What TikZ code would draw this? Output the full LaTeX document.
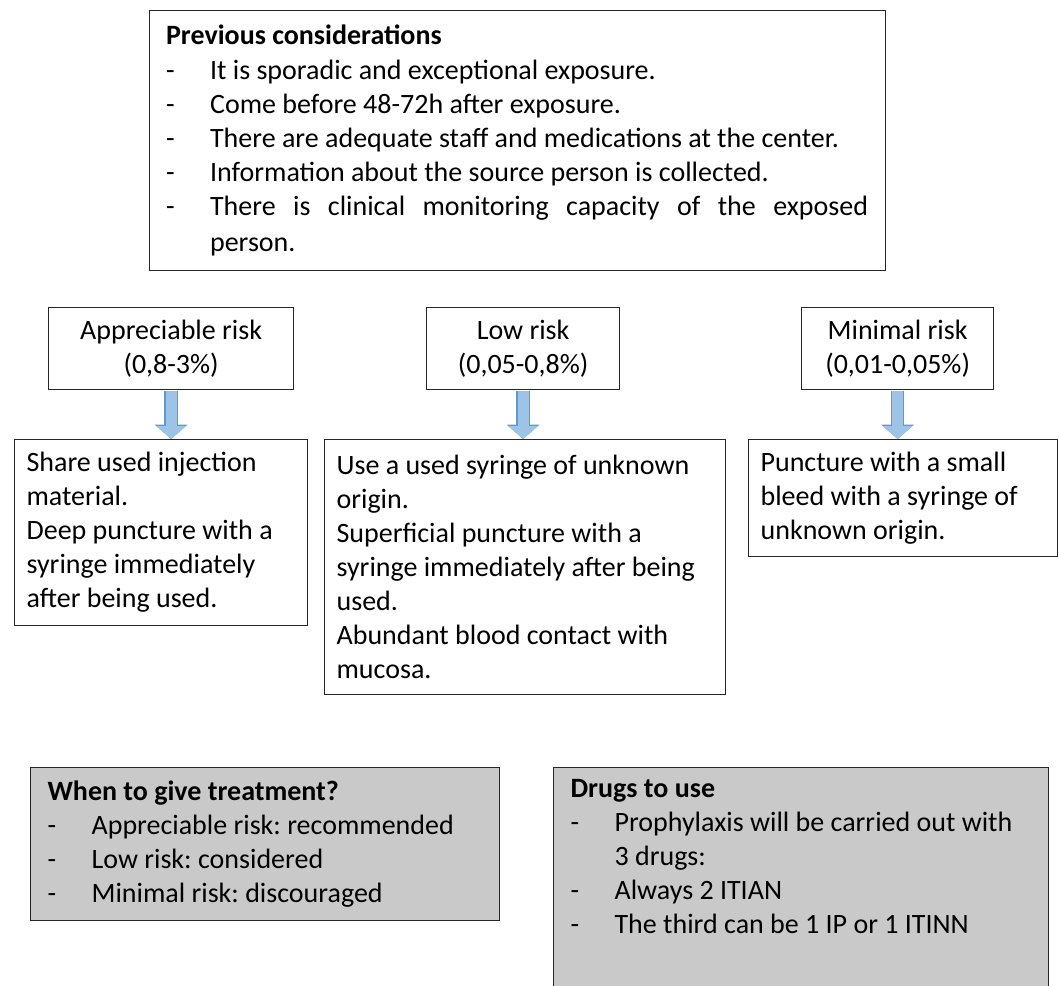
\documentclass[tikz,border=0pt]{standalone}
\usepackage{fontspec}
\setmainfont{Carlito}
\usetikzlibrary{positioning,arrows.meta}
\definecolor{boxgray}{RGB}{201,201,201}
\definecolor{arrowfill}{RGB}{157,195,230}
\definecolor{arrowedge}{RGB}{91,155,213}
\newcommand{\dashitem}[1]{\makebox[44pt][l]{-}#1}
\newcommand{\dashcont}[1]{\hspace*{44pt}#1}

\begin{document}
\begin{tikzpicture}[x=1pt, y=-1pt,
    box/.style={draw=black!85, line width=1.2pt, font=\fontsize{28}{34}\selectfont\frenchspacing, anchor=north west},
    riskbox/.style={box, align=center, minimum height=82pt, inner sep=0pt},
    casebox/.style={box, align=flush left, inner xsep=12pt, inner ysep=0pt},
    graybox/.style={box, fill=boxgray, align=flush left, inner xsep=17pt, inner ysep=0pt},
    riskarrow/.style={-{Triangle[width=30pt,length=13pt,line width=0pt]}, line width=11pt, draw=arrowfill, shorten <=0.6pt,
        preaction={draw=arrowedge, line width=13.5pt, shorten <=0.6pt, -{Triangle[width=33pt,length=14.5pt,line width=0pt]}}}
]
    \useasboundingbox (0,0) rectangle (1059,985);

    % conditions
    \node[box, align=flush left, text width=703pt, inner xsep=16.5pt, inner ysep=0pt, minimum height=260pt] (prev) at (149,10) {
        \textbf{Previous considerations}\\[1pt]
        \dashitem{It is sporadic and exceptional exposure.}\\
        \dashitem{Come before 48-72h after exposure.}\\
        \dashitem{There are adequate staff and medications at the center.}\\
        \dashitem{Information about the source person is collected.}\\
        \dashitem{\makebox[658pt][l]{There \hfill is \hfill clinical \hfill monitoring \hfill capacity \hfill of \hfill the \hfill exposed}}\\[2pt]
        \dashcont{person.}};

    % risk levels
    \node[riskbox, minimum width=245pt] (appr) at (48,307) {Appreciable risk\\(0,8-3\%)};
    \node[riskbox, minimum width=193pt] (low) at (426,307) {Low risk\\(0,05-0,8\%)};
    \node[riskbox, minimum width=192pt] (minimal) at (801,307) {Minimal risk\\(0,01-0,05\%)};

    % cases
    \node[casebox, text width=269pt, minimum height=186pt] (apprcase) at (14,439) {
        Share used injection\\material.\\Deep puncture with a\\syringe immediately\\after being used.};
    \node[casebox, text width=377pt, minimum height=255pt] (lowcase) at (324,439) {
        Use a used syringe of unknown\\origin.\\Superficial puncture with a\\syringe immediately after being\\used.\\Abundant blood contact with\\mucosa.};
    \node[casebox, text width=285pt, minimum height=117pt] (minimalcase) at (748,439) {
        Puncture with a small\\bleed with a syringe of\\unknown origin.};

    \draw[riskarrow] (appr.south) -- (appr.south |- apprcase.north);
    \draw[riskarrow] (low.south) -- (low.south |- lowcase.north);
    \draw[riskarrow] (minimal.south) -- (minimal.south |- minimalcase.north);

    % treatment
    \node[graybox, text width=435pt, minimum height=153pt] (when) at (30,767) {
        \textbf{When to give treatment?}\\
        \dashitem{Appreciable risk: recommended}\\
        \dashitem{Low risk: considered}\\
        \dashitem{Minimal risk: discouraged}};
    \node[graybox, text width=461pt, inner ysep=12pt] (drugs) at (553,767) {
        \textbf{Drugs to use}\\
        \dashitem{Prophylaxis will be carried out with}\\
        \dashcont{3 drugs:}\\
        \dashitem{Always 2 ITIAN}\\
        \dashitem{The third can be 1 IP or 1 ITINN}\\
        \mbox{}\\
        \mbox{}};
\end{tikzpicture}
\end{document}
